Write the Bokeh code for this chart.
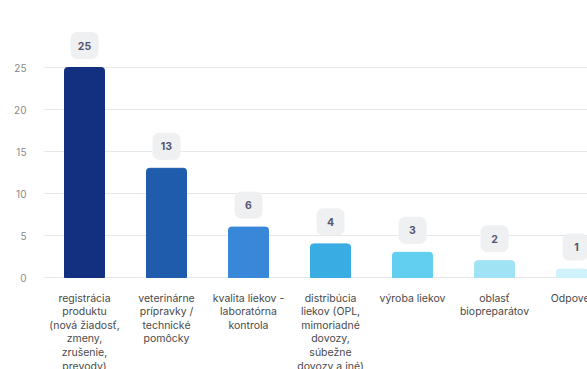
from bokeh.plotting import figure
from bokeh.models import ColumnDataSource, Range1d, FixedTicker
from bokeh.core.properties import value
from bokeh.embed import file_html
from bokeh.resources import INLINE

categories = [
    "registrácia\nproduktu\n(nová žiadosť,\nzmeny,\nzrušenie,\nprevody)",
    "veterinárne\nprípravky /\ntechnické\npomôcky",
    "kvalita liekov -\nlaboratórna\nkontrola",
    "distribúcia\nliekov (OPL,\nmimoriadné\ndovozy,\nsúbežne\ndovozy a iné)",
    "výroba liekov",
    "oblasť\nbiopreparátov",
    "Odpovede",
]
counts = [25, 13, 6, 4, 3, 2, 1]
colors = ["#12307f", "#1f5cab", "#3987d8", "#3aace4", "#62cff0", "#a0e3f4", "#cff2fb"]
y_ticks = [0, 5, 10, 15, 20, 25]

# layout scale (pixels per data unit)
PX_X = 82.0
PX_Y = 8.4
FRAME_W = 544
FRAME_H = 344
Y_TOP = 30

xs = list(range(len(categories)))
badge_bottom = [c + 9 / PX_Y for c in counts]
badge_top = [c + 35 / PX_Y for c in counts]
src = ColumnDataSource(dict(x=xs, top=counts, color=colors, cat=categories,
                            lab=[str(c) for c in counts], zero=[0] * len(xs),
                            bb=badge_bottom, bt=badge_top))

p = figure(width=587, height=369, output_backend="svg", toolbar_location=None,
           x_range=Range1d(-0.5, -0.5 + FRAME_W / PX_X),
           y_range=Range1d(Y_TOP - FRAME_H / PX_Y, Y_TOP),
           min_border_left=43, min_border_right=0, min_border_top=25, min_border_bottom=0)
p.outline_line_color = None
p.background_fill_color = "white"
p.border_fill_color = "white"

p.xaxis.visible = False
p.xgrid.visible = False
p.yaxis.ticker = FixedTicker(ticks=y_ticks)
p.yaxis.axis_line_color = None
p.yaxis.major_tick_line_color = None
p.yaxis.minor_tick_line_color = None
p.yaxis.major_label_text_font = "Inter"
p.yaxis.major_label_text_font_size = "10px"
p.yaxis.major_label_text_color = "#888888"
p.yaxis.major_label_standoff = 11
p.ygrid.grid_line_color = "#e8e8e8"
p.ygrid.ticker = FixedTicker(ticks=y_ticks)

p.vbar(x="x", top="top", width=40 / PX_X, bottom=0, color="color", source=src,
       border_radius=(3, 3, 0, 0))

p.vbar(x="x", top="bt", bottom="bb", width=27 / PX_X, color="#eff0f2", source=src,
       border_radius=6)

p.text(x="x", y="top", text="lab", source=src, y_offset=-22,
       text_align="center", text_baseline="middle",
       text_font=value("Inter"), text_font_size="10.5px", text_font_style="bold",
       text_color="#55556e")

p.text(x="x", y="zero", text="cat", source=src, y_offset=14,
       text_align="center", text_baseline="top",
       text_font=value("Inter"), text_font_size="10.5px",
       text_color="#4a4a4a", text_line_height=1.05)

open("out.html", "w").write(file_html(p, INLINE))
